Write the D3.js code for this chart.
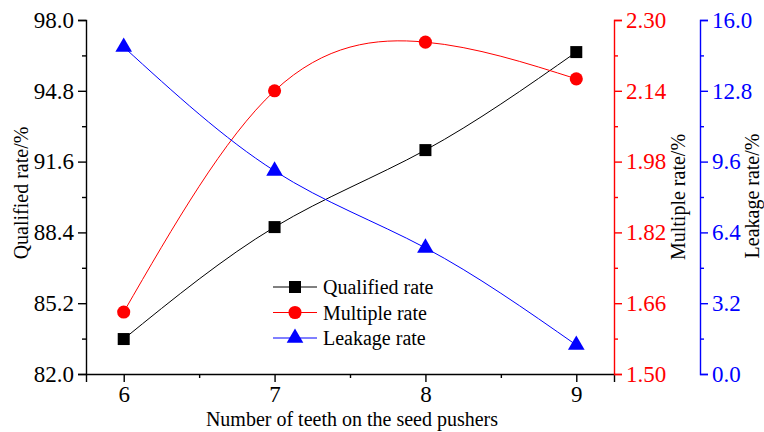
<!DOCTYPE html>
<html>
<head>
<meta charset="utf-8">
<script src="https://cdn.jsdelivr.net/npm/d3@7"></script>
<style>
  body { margin: 0; background: #fff; overflow: hidden; }
  svg text { font-family: "Liberation Serif", "DejaVu Serif", serif; }
</style>
</head>
<body>
<div id="chart"></div>
<script>
// teeth count on the seed pushers
const teeth = [6, 7, 8, 9];
// series
const qualified = [83.58, 88.64, 92.12, 96.55];
const multiple = [1.64, 2.14, 2.25, 2.167];
const leakage = [14.78, 9.18, 5.7, 1.31];

const qualTicks = [82.0, 85.2, 88.4, 91.6, 94.8, 98.0];
const multTicks = [1.50, 1.66, 1.82, 1.98, 2.14, 2.30];
const leakTicks = [0.0, 3.2, 6.4, 9.6, 12.8, 16.0];

const W = 764, H = 432;
const plotL = 86, plotR = 614, plotT = 20, plotB = 374;
const SERIF = '"Liberation Serif", "DejaVu Serif", serif';

const svg = d3.select("#chart").append("svg")
  .attr("width", W).attr("height", H);

const x = d3.scaleLinear().domain([5.75, 9.25]).range([plotL, plotR]);
const yQ = d3.scaleLinear().domain([82, 98]).range([plotB, plotT]);
const yM = d3.scaleLinear().domain([1.5, 2.3]).range([plotB, plotT]);
const yL = d3.scaleLinear().domain([0, 16]).range([plotB, plotT]);

// midpoints between major ticks, for minor ticks
function minors(t) {
  return t.slice(1).map((v, i) => (v + t[i]) / 2);
}

function drawAxis(axisFn, scale, ticks, fmt, tx, ty, color) {
  const g = svg.append("g").attr("transform", `translate(${tx},${ty})`);
  g.call(axisFn(scale).tickValues(ticks).tickFormat(fmt).tickSizeOuter(0).tickSize(8).tickPadding(4));
  g.attr("font-family", SERIF).attr("font-size", 23);
  g.select(".domain").attr("stroke", color).attr("stroke-width", 1.4);
  g.selectAll(".tick line").attr("stroke", color).attr("stroke-width", 1.4);
  g.selectAll(".tick text").attr("fill", color)
    .style("font-family", SERIF).style("font-size", "23px");
  const m = svg.append("g").attr("transform", `translate(${tx},${ty})`);
  m.call(axisFn(scale).tickValues(minors(ticks)).tickFormat("").tickSizeOuter(0).tickSize(4));
  m.select(".domain").remove();
  m.selectAll(".tick line").attr("stroke", color).attr("stroke-width", 1.4);
  return g;
}

const fmt1 = d3.format(".1f"), fmt2 = d3.format(".2f");
drawAxis(d3.axisBottom, x, teeth, d3.format("d"), 0, plotB, "#000");
drawAxis(d3.axisLeft, yQ, qualTicks, fmt1, plotL, 0, "#000");
drawAxis(d3.axisRight, yM, multTicks, fmt2, plotR, 0, "#ff0000");
drawAxis(d3.axisRight, yL, leakTicks, fmt1, 700, 0, "#0000ff");

// axis titles
svg.append("text").attr("x", 352).attr("y", 426).attr("text-anchor", "middle")
  .style("font-size", "20px").text("Number of teeth on the seed pushers");
svg.append("text").attr("transform", "translate(28,193) rotate(-90)")
  .attr("text-anchor", "middle").style("font-size", "20px").text("Qualified rate/%");
svg.append("text").attr("transform", "translate(685,197) rotate(-90)")
  .attr("text-anchor", "middle").style("font-size", "20px").text("Multiple rate/%");
svg.append("text").attr("transform", "translate(759,196) rotate(-90)")
  .attr("text-anchor", "middle").style("font-size", "20px").text("Leakage rate/%");

const series = [
  { name: "Qualified rate", values: qualified, y: yQ, color: "#000000", symbol: d3.symbolSquare, size: 144 },
  { name: "Multiple rate", values: multiple, y: yM, color: "#ff0000", symbol: d3.symbolCircle, size: 135 },
  { name: "Leakage rate", values: leakage, y: yL, color: "#0000ff", symbol: d3.symbolTriangle, size: 120 }
];

series.forEach(s => {
  const line = d3.line().curve(d3.curveNatural)
    .x((d, i) => x(teeth[i])).y(d => s.y(d));
  svg.append("path").datum(s.values).attr("d", line)
    .attr("fill", "none").attr("stroke", s.color).attr("stroke-width", 1);
  svg.append("g").selectAll("path").data(s.values).join("path")
    .attr("d", d3.symbol(s.symbol, s.size))
    .attr("transform", (d, i) => `translate(${x(teeth[i])},${s.y(d)})`)
    .attr("fill", s.color);
});

// legend
const lg = svg.append("g").attr("transform", "translate(273,287)");
series.forEach((s, i) => {
  const r = lg.append("g").attr("transform", `translate(0,${i * 25.5})`);
  r.append("line").attr("x1", 0).attr("x2", 44).attr("stroke", s.color).attr("stroke-width", 1);
  r.append("path").attr("d", d3.symbol(s.symbol, s.size)).attr("transform", "translate(22,0)").attr("fill", s.color);
  r.append("text").attr("x", 50).attr("y", 7).style("font-size", "20px").text(s.name);
});
</script>
</body>
</html>
